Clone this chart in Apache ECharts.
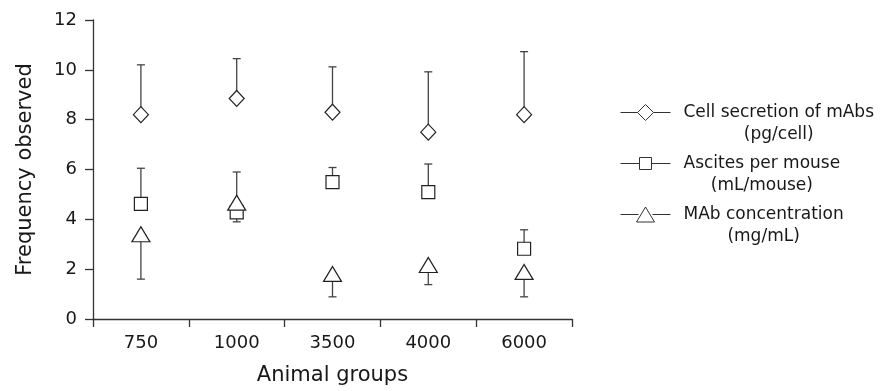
<!DOCTYPE html>
<html>
<head>
<meta charset="utf-8">
<script src="https://cdn.jsdelivr.net/npm/echarts@6/dist/echarts.min.js"></script>
<style>
html,body{margin:0;padding:0;background:#fff;}
#chart{width:887px;height:391px;}
</style>
</head>
<body>
<div id="chart"></div>
<script>
var categories = ['750', '1000', '3500', '4000', '6000'];
var yTicks = [0, 2, 4, 6, 8, 10, 12];

var seriesNames = ['Cell secretion of mAbs', 'Ascites per mouse', 'MAb concentration'];
var seriesUnits = ['(pg/cell)', '(mL/mouse)', '(mg/mL)'];

var cellSecretion = [8.2, 8.85, 8.3, 7.5, 8.2];
var cellSecretionErrEnd = [10.2, 10.45, 10.12, 9.92, 10.73];

var ascites = [4.62, 4.28, 5.49, 5.09, 2.82];
var ascitesErrEnd = [6.05, 5.9, 6.08, 6.22, 3.58];

var mabConc = [3.4, 4.67, 1.81, 2.17, 1.89];
var mabConcErrEnd = [1.6, 3.9, 0.89, 1.38, 0.89];

var FONT = 'DejaVu Sans';
var TXT = '#1a1718';

var chart = echarts.init(document.getElementById('chart'), null, {renderer: 'canvas'});

function errData(vals, ends) {
  return vals.map(function (v, i) { return [i, v, ends[i]]; });
}

function errorSeries(name, vals, ends) {
  return {
    type: 'custom',
    name: name + ' err',
    z: 1,
    silent: true,
    encode: {x: 0, y: [1, 2]},
    data: errData(vals, ends),
    renderItem: function (params, api) {
      var p0 = api.coord([api.value(0), api.value(1)]);
      var p1 = api.coord([api.value(0), api.value(2)]);
      var cap = 4;
      return {
        type: 'group',
        children: [
          {type: 'line', shape: {x1: p0[0], y1: p0[1], x2: p1[0], y2: p1[1]},
           style: {stroke: '#444', lineWidth: 1.3}},
          {type: 'line', shape: {x1: p1[0] - cap, y1: p1[1], x2: p1[0] + cap, y2: p1[1]},
           style: {stroke: '#444', lineWidth: 1.3}}
        ]
      };
    }
  };
}

function markerSeries(name, vals, symbol, size) {
  return {
    type: 'scatter',
    name: name,
    z: 5,
    symbol: symbol,
    symbolSize: size,
    data: vals,
    itemStyle: {color: '#fff', borderColor: '#222', borderWidth: 1.2, opacity: 1}
  };
}

// legend icon paths (58 x 44), symbol on upper line
var iconDiamond = 'path://M0,0 M58,44 M0,11 L17,11 M33,11 L50,11 M17,11 L25,3 L33,11 L25,19 Z';
var iconSquare = 'path://M0,0 M58,44 M0,11 L19,11 M31,11 L50,11 M19,5 L31,5 L31,17 L19,17 Z';
var iconTriangle = 'path://M0,0 M58,44 M0,11 L18,11 M32,11 L50,11 M25,3.5 L34,18.5 L16,18.5 Z';

var option = {
  animation: false,
  backgroundColor: '#fff',
  grid: {left: 93, right: 315, top: 20, bottom: 69, containLabel: false},
  legend: {
    orient: 'vertical',
    left: 620,
    top: 101,
    padding: 0,
    itemWidth: 58,
    itemHeight: 44,
    itemGap: 6,
    selectedMode: false,
    itemStyle: {color: '#fff', borderColor: '#333', borderWidth: 1},
    data: [
      {name: seriesNames[0], icon: iconDiamond},
      {name: seriesNames[1], icon: iconSquare},
      {name: seriesNames[2], icon: iconTriangle}
    ],
    formatter: function (name) {
      var i = seriesNames.indexOf(name);
      return '{a|' + name + '}\n{a|' + seriesUnits[i] + '}';
    },
    textStyle: {
      fontFamily: FONT,
      fontSize: 17,
      color: TXT,
      rich: {a: {fontFamily: FONT, fontSize: 17, color: TXT, align: 'center', lineHeight: 22}}
    }
  },
  xAxis: {
    type: 'category',
    data: categories,
    boundaryGap: true,
    name: 'Animal groups',
    nameLocation: 'middle',
    nameGap: 46,
    nameTextStyle: {fontFamily: FONT, fontSize: 21, color: TXT},
    axisLine: {lineStyle: {color: '#333', width: 1.3}},
    axisTick: {show: true, interval: 0, length: 8, lineStyle: {color: '#333', width: 1.3}},
    axisLabel: {fontFamily: FONT, fontSize: 18, color: TXT, margin: 15, interval: 0},
    splitLine: {show: false}
  },
  yAxis: {
    type: 'value',
    min: yTicks[0],
    max: yTicks[yTicks.length - 1],
    interval: 2,
    name: 'Frequency observed',
    nameLocation: 'middle',
    nameGap: 57,
    nameRotate: 90,
    nameTextStyle: {fontFamily: FONT, fontSize: 21, color: TXT},
    axisLine: {show: true, lineStyle: {color: '#333', width: 1.3}},
    axisTick: {show: true, length: 8, lineStyle: {color: '#333', width: 1.3}},
    axisLabel: {fontFamily: FONT, fontSize: 18, color: TXT, margin: 16},
    splitLine: {show: false}
  },
  series: [
    errorSeries(seriesNames[0], cellSecretion, cellSecretionErrEnd),
    errorSeries(seriesNames[1], ascites, ascitesErrEnd),
    errorSeries(seriesNames[2], mabConc, mabConcErrEnd),
    markerSeries(seriesNames[0], cellSecretion, 'diamond', [15, 16]),
    markerSeries(seriesNames[1], ascites, 'rect', [13, 13]),
    markerSeries(seriesNames[2], mabConc, 'triangle', [18, 15])
  ]
};

chart.setOption(option);
</script>
</body>
</html>
